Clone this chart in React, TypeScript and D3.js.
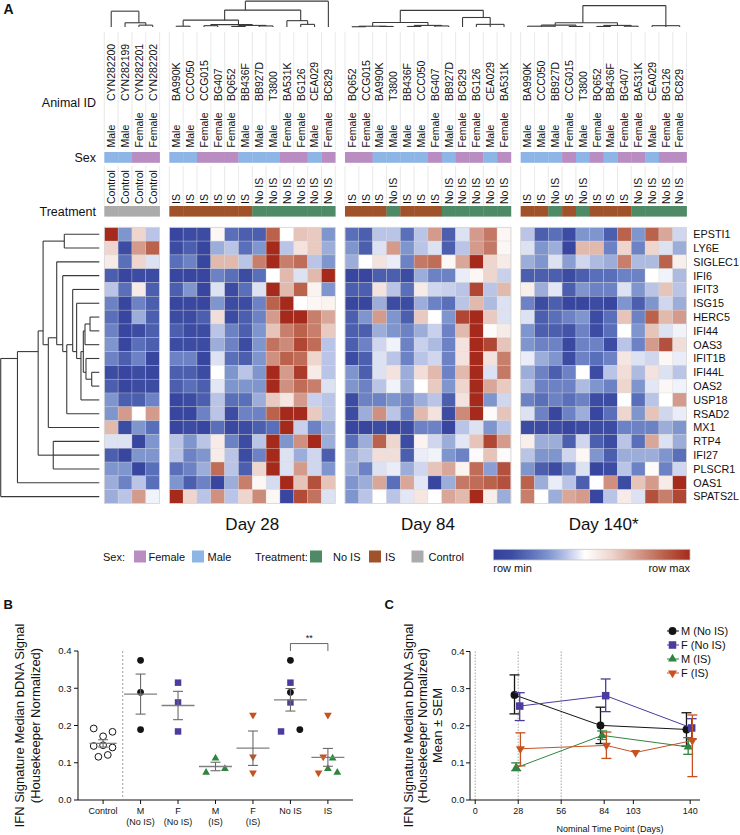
import React from "react";
import * as d3 from "d3";

const FONT = "'Liberation Sans', Arial, Helvetica, sans-serif";

// ---------------- Heatmap data ----------------
const genes = ["EPSTI1","LY6E","SIGLEC1","IFI6","IFIT3","ISG15","HERC5","IFI44","OAS3","IFIT1B","IFI44L","OAS2","USP18","RSAD2","MX1","RTP4","IFI27","PLSCR1","OAS1","SPATS2L"];

const ctrlIds = ["CYN282200","CYN282199","CYN282201","CYN282202"];
const ctrlSex = ["Male","Male","Female","Female"];
const ctrlTrt = ["Control","Control","Control","Control"];

const d28Ids = ["BA990K","CCC050","CCG015","BG407","BQ652","BB436F","BB927D","T3800","BA531K","BG126","CEA029","BC829"];
const d28Sex = ["Male","Male","Female","Female","Female","Male","Male","Male","Female","Female","Male","Female"];
const d28Trt = ["IS","IS","IS","IS","IS","IS","No IS","No IS","No IS","No IS","No IS","No IS"];

const d84Ids = ["BQ652","CCG015","BA990K","T3800","BB436F","CCC050","BG407","BB927D","BC829","BG126","CEA029","BA531K"];
const d84Sex = ["Female","Female","Male","Male","Male","Male","Female","Male","Female","Female","Male","Female"];
const d84Trt = ["IS","IS","IS","No IS","IS","IS","IS","No IS","No IS","No IS","No IS","No IS"];

const d140Ids = ["BA990K","CCC050","BB927D","CCG015","T3800","BQ652","BB436F","BG407","BA531K","CEA029","BG126","BC829"];
const d140Sex = ["Male","Male","Male","Female","Male","Female","Male","Female","Female","Male","Female","Female"];
const d140Trt = ["IS","IS","No IS","IS","No IS","IS","IS","IS","No IS","No IS","No IS","No IS"];

// relative row level: 0 = row min (blue), 5 = mid (white), 9 = row max (red)
const ctrlVals = [
  [9,3,6,4],[6,1,7,8],[5.5,2,6,4.5],[1.5,0.5,1,1],[4,2,5.5,1.5],
  [2.5,0.5,2.5,1.5],[2,0.5,3.5,1.5],[2.5,0.5,1,1.5],[3,0.5,2,1.5],[2.5,1.5,2.5,0.5],
  [1,0.5,1,0.5],[1.5,0.5,1,1],[3,1.5,1.5,2.5],[3,7,5,7],[6.5,1,3,2],
  [4.5,4.5,0.5,3],[1.5,0.5,3,3],[3,3,0.5,2],[3.5,2.5,4,2],[3.5,4,7,4.8]
];
const d28Vals = [
  [0.5,1,1,5.2,2,1.5,1.5,8,5,6.3,6.2,3],
  [1,1.5,0.5,3.5,4,2,3,9,4,5.7,6.2,3.5],
  [2,2.5,0.5,6.5,6.5,4,7.5,9,7.5,7.8,4,3],
  [0.5,0.5,0.5,2.5,2,1,2,5,6.5,4.5,6.5,9],
  [1.5,3,0.5,4.5,1,2,4.5,9,6.5,8,5.3,3],
  [0.5,0.7,0.5,3,1,1,2.5,8,9,5,5.2,5.3],
  [1,1,1.5,5.8,1,1.5,2.5,7,9,9,7.5,6.8],
  [1.5,1,1,4,2.5,1.5,3,6.3,7.5,8,7.5,6.2],
  [1,1,1,3.5,2.5,1,3,7.7,7.3,8.5,7.8,4],
  [2.5,2.5,0.5,4.5,2,1.5,3,7.2,8,7.8,6,4],
  [1.5,1.5,1,5,3,4,3,9,7,8.7,5.5,4],
  [1.5,2,1.5,4.6,3,3,3,9,7.2,7.8,7.5,4.5],
  [0.5,1,1.5,4,2,2,3.5,6.2,5.6,7,4.2,4],
  [0.5,0.5,2.5,4,1,2.5,2.5,8,9,9,6.2,4],
  [0.5,1,0.5,2,0.7,1,1.5,2,9,4.2,2.5,3.5],
  [4,3,4,5.5,2.5,1,4,9,3,7.2,9,3.5],
  [4,2.5,3,5.5,4,1,2.5,9,4.5,3.5,4.3,1.5],
  [2,2.5,3.5,7.8,4,1.5,6,9,4.5,7,4.3,3],
  [3,1.5,2.5,0.5,3.5,7.5,5.2,4.4,9,6.3,8.3,6.3],
  [9,6,4,7.2,4,6,7.3,5.2,0.5,8.4,7.7,4.5]
];
const d84Vals = [
  [2,1.5,4,4,2,4,7,1.5,4.5,7,7.6,5.2],
  [3,1.5,4.5,7,3,4,4.5,1.5,4,7,7.6,5.2],
  [3.5,5,5.7,4.7,2.5,7.6,7.8,5.2,6.8,9,6,5.5],
  [0.5,0.5,1.5,1.5,1,3.5,2.5,2.5,4.7,5.2,6,4.2],
  [1.5,1.5,5.7,4,2,5.5,4.3,4.2,4,8.5,4,6.5],
  [0.5,0.5,3.5,1,1,3.5,2.5,2,4,6.5,3.8,4.5],
  [1.5,3,7,3,1.5,6.2,5,3,8.5,9,6.2,4.5],
  [1.5,1.5,3.5,3,2.5,3.5,4.2,2.5,6.5,9,5.1,5.5],
  [1.5,2.5,4.3,4.8,2.5,4.2,3.8,2.5,5.7,9,8.5,6.3],
  [1,1.5,4.5,4,2.5,4,4.3,2.5,5.7,9,5.7,7.5],
  [3,1.5,4.5,5.7,3.5,5.8,6.5,2.5,6.5,9,4.5,7.6],
  [3,2.5,4,4.8,3.5,5,6.2,3,6,9,6.8,6.2],
  [1,2.5,2.5,3,2.5,3.5,4,1.5,5.7,9,3,4.3],
  [1,3.5,7.2,4,2.5,6.5,5.7,1,7.3,9,5.1,6.3],
  [0.5,0.5,1,0.5,1,2.5,2.5,0.5,4,4.5,3,4],
  [2,3.5,8,6,1,5.3,4.3,3.5,4.6,6.3,8.5,7],
  [3.5,4,5.8,5.8,1.5,4.7,4.8,3,2.5,5.1,6.3,5.1],
  [3.5,2.5,4.5,4.7,3.5,4.3,6.3,6.8,5.3,7.8,3.2,8.3],
  [3,3.5,6.8,2,6.8,4.6,0.5,3.5,7.6,7.8,8,8.3],
  [3,4,5,4,4.6,5.6,5,6.8,6.5,9,5.4,3.5]
];
const d140Vals = [
  [4,1.5,2,1,3,3,1.5,8,3,8,6.8,4.3],
  [4.5,3,3.5,0.5,6.5,6.5,2.5,6,2.5,6,4.5,3.5],
  [3.5,3,4.5,3.2,4.3,3.8,3.5,7.5,3.8,3.8,8,5.4],
  [1.5,1.5,1.5,1,1.5,2,2,2.5,2.5,5,4.8,3.8],
  [5.4,3.5,4.6,1.5,3,2.5,2.5,4.5,3,4,6.3,4],
  [2.5,1,1.5,0.5,0.5,1,0.5,3,1.5,3,4.3,3.5],
  [4.5,1.5,2,2.5,3,1,2,6.3,2.5,8,6.5,7],
  [3,1.5,1.5,1.2,2.5,1,2,5,3,6.3,4.5,4.8],
  [3,2.5,2.5,0.7,2.5,2.5,1,4,2.5,7,8.3,5.8],
  [4.7,3.5,3,1,2.5,2,2.5,5.6,4.5,4.3,5.2,4.7],
  [3.5,2.5,1.5,2.5,5,1,4,5.8,3.8,5.7,4.5,4],
  [4,2.5,2.5,2.5,3.8,3,2.5,6,3,4.6,5.2,4.8],
  [2.5,2,2.5,2,2.5,1,1,5,2,4,5,7],
  [4.5,2.5,0.5,2.5,3.5,0.5,2,6,3,6.3,4.3,4.7],
  [1,1,1,0.5,1,1,1,2.5,2.5,2.5,3.5,3],
  [5.4,3.5,3.5,1.5,4.3,1.5,1,4,2,6.8,4.5,3.5],
  [4,3,3,4.3,5.2,3,1.5,3.5,3.5,3.5,3,2],
  [3,1.5,1,2.5,4.5,0.5,1,4,2.5,5.1,2.5,4.3],
  [8,3.5,4.7,4,1.5,5,7.2,1,6.3,7,5.5,9],
  [7.5,5,3.5,6.8,7,0.5,4,5.5,4.5,8.3,7.5,8.5]
];

// Column dendrograms: [height, ...children], leaves are column indices
const ctrlTree = [0.6, 0, [0.16, 1, [0.07, 2, 3]]];
const d28Tree = [0.98, [0.64, [0.26, [0.03, 0, 1], [0.09, [0.05, 2, 3], [0.06, [0.02, 4, 5], [0.04, 6, 7]]]], [0.24, 8, [0.1, 9, 10]]], 11];
const d84Tree = [0.63, [0.17, [0.03, [0.01, 0, 1], [0.02, 2, 3]], [0.06, [0.02, 4, 5], [0.04, 6, 7]]], [0.36, 8, [0.1, 9, 10, 11]]];
const d140Tree = [0.81, [0.16, [0.07, [0.03, 0, 1, 2], [0.02, 3, 4]], [0.06, [0.02, 5, 6], [0.03, 7, 8]]], [0.05, 9, 10, 11]];

// Row (gene) dendrogram, leaves are gene indices
const gIO = [0.077, 10, 11];
const gR10 = [0.135, 9, gIO];
const gHI = [0.094, 6, 7];
const gR9 = [0.145, 8, gHI];
const gR8 = [0.162, gR9, gR10];
const gR7 = [0.186, 12, gR8];
const gR6 = [0.23, 5, gR7];
const gR5 = [0.27, 4, gR6];
const gR4 = [0.33, 13, gR5];
const gR3 = [0.371, 3, gR4];
const gR2 = [0.432, 2, gR3];
const gRest = [0.517, 14, gR2];
const gEL = [0.355, 0, 1];
const gUp = [0.57, gEL, gRest];
const gNb = [0.467, 15, 16, 17];
const gN2 = [0.62, gNb, gUp];
const gN1 = [0.83, 18, gN2];
const geneTree = [1.0, 19, gN1];

const dayLabels = ["", "Day 28", "Day 84", "Day 140*"];

// ---------------- Panel B data ----------------
const bCats = ["Control", "M (No IS)", "F (No IS)", "M (IS)", "F (IS)", "No IS", "IS"];
const bTickLines = [["Control"], ["M", "(No IS)"], ["F", "(No IS)"], ["M", "(IS)"], ["F", "(IS)"], ["No IS"], ["IS"]];
const ctrlB = [0.192, 0.145, 0.116, 0.171, 0.147, 0.121, 0.183, 0.141];
const ctrlSlots = [-2, -2, -1, 0, 0, 1, 2, 2];
const mNoIsB = [0.375, 0.289, 0.189];
const fNoIsB = [0.315, 0.262, 0.184];
const mIsB = [0.074, 0.112, 0.084];
const fIsB = [0.228, 0.116, 0.073];
const yTicks = [0, 0.1, 0.2, 0.3, 0.4];

// ---------------- Panel C data ----------------
const cSeries = ["M (No IS)", "F (No IS)", "M (IS)", "F (IS)"];
const cDays = [[28, 84, 140], [28, 84, 140], [28, 84, 140], [28, 84, 103, 140]];
const cMean = [[0.283, 0.201, 0.19], [0.253, 0.281, 0.194], [0.087, 0.174, 0.143], [0.138, 0.147, 0.128, 0.16]];
const cLo = [[0.232, 0.152, 0.145], [0.214, 0.238, 0.164], [0.079, 0.163, 0.123], [0.092, 0.112, 0.128, 0.063]];
const cHi = [[0.337, 0.25, 0.235], [0.289, 0.326, 0.219], [0.1, 0.186, 0.168], [0.181, 0.183, 0.128, 0.229]];
const cXTicks = [0, 28, 56, 84, 103, 140];
const cRefDays = [0, 28, 56];

// ---------------- styles ----------------
const rampDomain = [0, 1, 2, 3, 4, 5, 6, 7, 8, 9];
const rampColors = ["#34409a", "#3d4ca3", "#5a6fb9", "#7f95ce", "#bac4e6", "#ffffff", "#eed6ce", "#d49b8c", "#ba624c", "#a52a1c"];
const sexColor: Record<string, string> = { Male: "#8db5e6", Female: "#b98dc1" };
const trtColor: Record<string, string> = { IS: "#a0522b", "No IS": "#4f8a66", Control: "#ababab" };
const BLACK = "#141414", PURPLE = "#4a3d9e", GREEN = "#2f8540", ORANGE = "#c6521f";
const seriesColor = [BLACK, PURPLE, GREEN, ORANGE];
const seriesShape = ["circle", "square", "triUp", "triDown"];
const seriesDodge = [-3.7, 1.5, -2, 2.2];

function layoutTree(node: any, leafPos: (i: number) => number) {
  const segs: { p1: number; p2: number; h1: number; h2: number }[] = [];
  function rec(n: any): { pos: number; h: number; leaves: number[] } {
    if (typeof n === "number") {
      const p = leafPos(n);
      return { pos: p, h: 0, leaves: [p] };
    }
    const h = n[0];
    const kids = n.slice(1).map(rec);
    const leaves = kids.flatMap((k: any) => k.leaves);
    const pos = d3.mean(leaves) as number;
    const ps = kids.map((k: any) => k.pos);
    segs.push({ p1: d3.min(ps) as number, p2: d3.max(ps) as number, h1: h, h2: h });
    kids.forEach((k: any) => segs.push({ p1: k.pos, p2: k.pos, h1: k.h, h2: h }));
    return { pos, h, leaves };
  }
  rec(node);
  return segs;
}

function symbolPath(shape: string, big: boolean) {
  const s = big ? 1.35 : 1;
  if (shape === "circle" || shape === "openCircle") return d3.symbol().type(d3.symbolCircle).size(36 * s)()!;
  if (shape === "square") return d3.symbol().type(d3.symbolSquare).size(42 * s)()!;
  return d3.symbol().type(d3.symbolTriangle).size(26 * s)()!;
}

function Marker({ shape, x, y, color, big = false }: any) {
  const d = symbolPath(shape, big);
  const rot = shape === "triDown" ? " rotate(180)" : "";
  if (shape === "openCircle")
    return <path d={d} transform={`translate(${x},${y})`} fill="#fff" stroke={BLACK} strokeWidth={1} />;
  return <path d={d} transform={`translate(${x},${y})${rot}`} fill={color} />;
}

export default function App() {
  const color = d3.scaleLinear<string>().domain(rampDomain).range(rampColors).interpolate(d3.interpolateRgb);
  const rowY = d3.scaleBand<string>().domain(genes).range([227.3, 503.5]);
  const CW = 13.83, GAP = 9.7;
  const raw = [
    { ids: ctrlIds, sex: ctrlSex, trt: ctrlTrt, vals: ctrlVals, tree: ctrlTree },
    { ids: d28Ids, sex: d28Sex, trt: d28Trt, vals: d28Vals, tree: d28Tree },
    { ids: d84Ids, sex: d84Sex, trt: d84Trt, vals: d84Vals, tree: d84Tree },
    { ids: d140Ids, sex: d140Sex, trt: d140Trt, vals: d140Vals, tree: d140Tree },
  ];
  let cursor = 104.3;
  const blocks = raw.map((b, bi) => {
    const x = d3.scaleBand<number>().domain(d3.range(b.ids.length)).range([cursor, cursor + b.ids.length * CW]);
    cursor += b.ids.length * CW + GAP;
    return { ...b, x, label: dayLabels[bi] };
  });
  const dendY = d3.scaleLinear().domain([0, 1]).range([27, 0.6]);
  const geneX = d3.scaleLinear().domain([0, 1]).range([99.3, 0.7]);

  const geneSegs = layoutTree(geneTree, (i) => (rowY(genes[i]) as number) + rowY.bandwidth() / 2);

  // colorbar
  const cbX0 = 493.3, cbX1 = 690;
  const offsetOf = (v: number) => (v <= 5 ? (v / 5) * 0.466 : 0.466 + ((v - 5) / 4) * 0.534);

  // Panel B
  const yB = d3.scaleLinear().domain([0, 0.4]).range([800, 651]);
  const xB = d3.scalePoint<string>().domain(bCats).range([78, 353]).padding(0.67);
  const bGroups: { cat: string; sets: { vals: number[]; shape: string; color: string; slots: number[] }[] }[] = [
    { cat: "Control", sets: [{ vals: ctrlB, shape: "openCircle", color: BLACK, slots: ctrlSlots }] },
    { cat: "M (No IS)", sets: [{ vals: mNoIsB, shape: "circle", color: BLACK, slots: [0, 0, 0] }] },
    { cat: "F (No IS)", sets: [{ vals: fNoIsB, shape: "square", color: PURPLE, slots: [0, 0, 0] }] },
    { cat: "M (IS)", sets: [{ vals: mIsB, shape: "triUp", color: GREEN, slots: [-2, 0, 2] }] },
    { cat: "F (IS)", sets: [{ vals: fIsB, shape: "triDown", color: ORANGE, slots: [0, 0, 0] }] },
    { cat: "No IS", sets: [
      { vals: fNoIsB, shape: "square", color: PURPLE, slots: [0, 0, -2] },
      { vals: mNoIsB, shape: "circle", color: BLACK, slots: [0, 0, 2] } ] },
    { cat: "IS", sets: [
      { vals: fIsB, shape: "triDown", color: ORANGE, slots: [0, -1, -2] },
      { vals: mIsB, shape: "triUp", color: GREEN, slots: [2, 1, 0] } ] },
  ];
  const SLOT = 4.7;

  // Panel C
  const yC = d3.scaleLinear().domain([0, 0.4]).range([800, 651.5]);
  const xC = d3.scaleLinear().domain([-3.4, 146.4]).range([470, 700]);

  const txt = { fontFamily: FONT, fill: "#111" } as any;

  return (
    <svg width={740} height={835} style={{ position: "absolute", left: 0, top: 0, background: "#fff" }}>
      <rect width={740} height={835} fill="#fff" />
      <text x={3.5} y={14} {...txt} fontSize={14} fontWeight="bold">A</text>

      {/* header row labels */}
      <text x={96} y={106.5} {...txt} fontSize={12.5} textAnchor="end">Animal ID</text>
      <text x={96} y={161.5} {...txt} fontSize={12.5} textAnchor="end">Sex</text>
      <text x={96} y={215.5} {...txt} fontSize={12.5} textAnchor="end">Treatment</text>

      {blocks.map((b, bi) => {
        const x0 = b.x.range()[0], x1 = b.x.range()[1];
        const segs = layoutTree(b.tree, (i) => (b.x(i) as number) + CW / 2);
        return (
          <g key={"blk" + bi}>
            {/* column separators in header */}
            {d3.range(b.ids.length + 1).map((i) => {
              const xx = x0 + i * CW;
              return (
                <g key={"sep" + i}>
                  <line x1={xx} x2={xx} y1={32} y2={150} stroke="#e3e3e3" strokeWidth={0.8} />
                  <line x1={xx} x2={xx} y1={166} y2={205} stroke="#e3e3e3" strokeWidth={0.8} />
                </g>
              );
            })}
            {/* dendrogram */}
            {segs.map((s, i) => (
              <line key={"d" + i} x1={s.p1} x2={s.p2} y1={dendY(s.h1)} y2={dendY(s.h2)} stroke="#3a3a3a" strokeWidth={1.1} />
            ))}
            {/* labels */}
            {b.ids.map((id, i) => {
              const cx = (b.x(i) as number) + CW / 2 + 3.8;
              return (
                <g key={"lab" + i}>
                  <text transform={`translate(${cx},101) rotate(-90)`} {...txt} fontSize={10.5} textAnchor="start">{id}</text>
                  <text transform={`translate(${cx},147.5) rotate(-90)`} {...txt} fontSize={10.5} textAnchor="start">{b.sex[i]}</text>
                  <text transform={`translate(${cx},204) rotate(-90)`} {...txt} fontSize={10.5} textAnchor="start">{b.trt[i]}</text>
                </g>
              );
            })}
            {/* annotation bars */}
            {b.sex.map((s, i) => (
              <rect key={"sx" + i} x={b.x(i)} y={152} width={CW + 0.3} height={10.8} fill={sexColor[s]} />
            ))}
            {b.trt.map((t, i) => (
              <rect key={"tr" + i} x={b.x(i)} y={206} width={CW + 0.3} height={10.6} fill={trtColor[t]} />
            ))}
            {/* heat cells */}
            {b.vals.map((row, r) =>
              row.map((v, c) => (
                <rect key={`c${r}-${c}`} x={b.x(c)} y={rowY(genes[r])} width={CW} height={rowY.bandwidth()}
                  fill={color(v)} stroke="rgba(215,215,215,0.55)" strokeWidth={0.5} />
              ))
            )}
            <rect x={x0} y={227.3} width={x1 - x0} height={276.2} fill="none" stroke="#d6d6d6" strokeWidth={0.8} />
            {b.label && (
              <text x={(x0 + x1) / 2} y={530} {...txt} fontSize={17} textAnchor="middle">{b.label}</text>
            )}
          </g>
        );
      })}

      {/* gene labels */}
      {genes.map((g) => (
        <text key={g} x={693.3} y={(rowY(g) as number) + rowY.bandwidth() / 2 + 3.9} {...txt} fontSize={10.8}>{g}</text>
      ))}
      {/* gene dendrogram */}
      {geneSegs.map((s, i) => (
        <line key={"gd" + i} x1={geneX(s.h1)} x2={geneX(s.h2)} y1={s.p1} y2={s.p2} stroke="#3a3a3a" strokeWidth={1.1} />
      ))}

      {/* legend */}
      <g fontFamily={FONT} fontSize={11} fill="#111">
        <text x={103} y={561}>Sex:</text>
        <rect x={134} y={550.5} width={12} height={12} fill={sexColor.Female} />
        <text x={148.5} y={561}>Female</text>
        <rect x={192} y={550.5} width={12} height={12} fill={sexColor.Male} />
        <text x={207.5} y={561}>Male</text>
        <text x={255} y={561}>Treatment:</text>
        <rect x={310} y={550.5} width={12} height={12} fill={trtColor["No IS"]} />
        <text x={333} y={561}>No IS</text>
        <rect x={369} y={550.5} width={12} height={12} fill={trtColor.IS} />
        <text x={385} y={561}>IS</text>
        <rect x={411.5} y={550.5} width={12} height={12} fill={trtColor.Control} />
        <text x={428.5} y={561}>Control</text>
      </g>
      <defs>
        <linearGradient id="cbar" x1="0" x2="1" y1="0" y2="0">
          {rampDomain.map((v, i) => (
            <stop key={i} offset={offsetOf(v)} stopColor={rampColors[i]} />
          ))}
        </linearGradient>
      </defs>
      <rect x={cbX0} y={549.3} width={cbX1 - cbX0} height={10.7} fill="url(#cbar)" stroke="#c4c4c4" strokeWidth={0.8} />
      <text x={cbX0} y={572} {...txt} fontSize={11}>row min</text>
      <text x={cbX1} y={572} {...txt} fontSize={11} textAnchor="end">row max</text>

      {/* ---------------- Panel B ---------------- */}
      <text x={3.5} y={608.5} {...txt} fontSize={13} fontWeight="bold">B</text>
      <text transform={`translate(24,725.5) rotate(-90)`} {...txt} fontSize={13} textAnchor="middle">IFN Signature Median bDNA Signal</text>
      <text transform={`translate(40,725.5) rotate(-90)`} {...txt} fontSize={13} textAnchor="middle">(Housekeeper Normalized)</text>
      <line x1={78} x2={78} y1={yB(0.4)} y2={yB(0)} stroke="#111" strokeWidth={1} />
      <line x1={78} x2={353} y1={yB(0)} y2={yB(0)} stroke="#111" strokeWidth={1} />
      {yTicks.map((t) => (
        <g key={"byt" + t}>
          <line x1={74} x2={78} y1={yB(t)} y2={yB(t)} stroke="#111" />
          <text x={71.5} y={yB(t) + 3.3} {...txt} fontSize={9.5} textAnchor="end">{d3.format(".1f")(t)}</text>
        </g>
      ))}
      {bCats.map((c, i) => (
        <g key={"bxt" + c}>
          <line x1={xB(c)} x2={xB(c)} y1={800} y2={804} stroke="#111" />
          {bTickLines[i].map((l, j) => (
            <text key={j} x={xB(c)} y={813.5 + j * 11.5} {...txt} fontSize={9} textAnchor="middle">{l}</text>
          ))}
        </g>
      ))}
      <line x1={122.7} x2={122.7} y1={yB(0.4)} y2={800} stroke="#888" strokeWidth={0.8} strokeDasharray="2,2" />
      {bGroups.map((g) => {
        const cx = xB(g.cat) as number;
        const all = g.sets.flatMap((s) => s.vals);
        const m = d3.mean(all) as number;
        const sem = (d3.deviation(all) as number) / Math.sqrt(all.length);
        const half = g.cat === "Control" ? 13.5 : 16.5;
        return (
          <g key={"bg" + g.cat}>
            {g.sets.map((s, si) =>
              s.vals.map((v, vi) => (
                <Marker key={si + "-" + vi} shape={s.shape} color={s.color} x={cx + s.slots[vi] * SLOT} y={yB(v)} />
              ))
            )}
            <line x1={cx - half} x2={cx + half} y1={yB(m)} y2={yB(m)} stroke="#808080" strokeWidth={1.3} />
            <line x1={cx} x2={cx} y1={yB(m - sem)} y2={yB(m + sem)} stroke="#6a6a6a" strokeWidth={1.1} />
            <line x1={cx - 5} x2={cx + 5} y1={yB(m - sem)} y2={yB(m - sem)} stroke="#6a6a6a" strokeWidth={1.1} />
            <line x1={cx - 5} x2={cx + 5} y1={yB(m + sem)} y2={yB(m + sem)} stroke="#6a6a6a" strokeWidth={1.1} />
          </g>
        );
      })}
      {/* significance */}
      <path d={`M${xB("No IS")},${yB(0.4)} V${yB(0.42)} H${xB("IS")} V${yB(0.4)}`} fill="none" stroke="#555" strokeWidth={0.9} />
      <text x={((xB("No IS") as number) + (xB("IS") as number)) / 2} y={yB(0.42) - 3} {...txt} fontSize={9} textAnchor="middle">**</text>

      {/* ---------------- Panel C ---------------- */}
      <text x={384.5} y={608.5} {...txt} fontSize={13} fontWeight="bold">C</text>
      <text transform={`translate(412.5,725.5) rotate(-90)`} {...txt} fontSize={13} textAnchor="middle">IFN Signature Median bDNA Signal</text>
      <text transform={`translate(427,725.5) rotate(-90)`} {...txt} fontSize={13} textAnchor="middle">(Housekeeper Normalized)</text>
      <text transform={`translate(441.5,725.5) rotate(-90)`} {...txt} fontSize={13} textAnchor="middle">Mean ± SEM</text>
      {cRefDays.map((d) => (
        <line key={"ref" + d} x1={xC(d)} x2={xC(d)} y1={yC(0.4)} y2={800} stroke="#9a9a9a" strokeWidth={0.9} strokeDasharray="1.5,1.5" />
      ))}
      <line x1={470} x2={470} y1={yC(0.4)} y2={800} stroke="#111" />
      <line x1={470} x2={700} y1={800} y2={800} stroke="#111" />
      {yTicks.map((t) => (
        <g key={"cyt" + t}>
          <line x1={466} x2={470} y1={yC(t)} y2={yC(t)} stroke="#111" />
          <text x={464.5} y={yC(t) + 3.3} {...txt} fontSize={9.5} textAnchor="end">{d3.format(".1f")(t)}</text>
        </g>
      ))}
      {cXTicks.map((t) => (
        <g key={"cxt" + t}>
          <line x1={xC(t)} x2={xC(t)} y1={800} y2={804} stroke="#111" />
          <text x={xC(t)} y={814} {...txt} fontSize={9} textAnchor="middle">{t}</text>
        </g>
      ))}
      <text x={610} y={832} {...txt} fontSize={9} textAnchor="middle">Nominal Time Point (Days)</text>
      {cSeries.map((s, si) => {
        const col = seriesColor[si];
        const pts = cDays[si].map((d, i) => [xC(d) + seriesDodge[si], yC(cMean[si][i])] as [number, number]);
        const line = d3.line()(pts)!;
        return (
          <g key={"cs" + s}>
            <path d={line} fill="none" stroke={col} strokeWidth={1} />
            {cDays[si].map((d, i) => {
              const x = xC(d) + seriesDodge[si];
              if (cHi[si][i] === cLo[si][i]) return null;
              return (
                <g key={"eb" + i}>
                  <line x1={x} x2={x} y1={yC(cLo[si][i])} y2={yC(cHi[si][i])} stroke={col} strokeWidth={1.3} />
                  <line x1={x - 5} x2={x + 5} y1={yC(cLo[si][i])} y2={yC(cLo[si][i])} stroke={col} strokeWidth={1.3} />
                  <line x1={x - 5} x2={x + 5} y1={yC(cHi[si][i])} y2={yC(cHi[si][i])} stroke={col} strokeWidth={1.3} />
                </g>
              );
            })}
            {pts.map((p, i) => (
              <Marker key={"m" + i} shape={seriesShape[si]} color={col} x={p[0]} y={p[1]} big />
            ))}
          </g>
        );
      })}
      {/* legend C */}
      {cSeries.map((s, si) => {
        const y = 631 + si * 14;
        return (
          <g key={"lg" + s}>
            <line x1={667} x2={679} y1={y} y2={y} stroke={seriesColor[si]} strokeWidth={1} />
            <Marker shape={seriesShape[si]} color={seriesColor[si]} x={672.5} y={y} big />
            <text x={681} y={y + 4} {...txt} fontSize={11}>{s}</text>
          </g>
        );
      })}
    </svg>
  );
}
